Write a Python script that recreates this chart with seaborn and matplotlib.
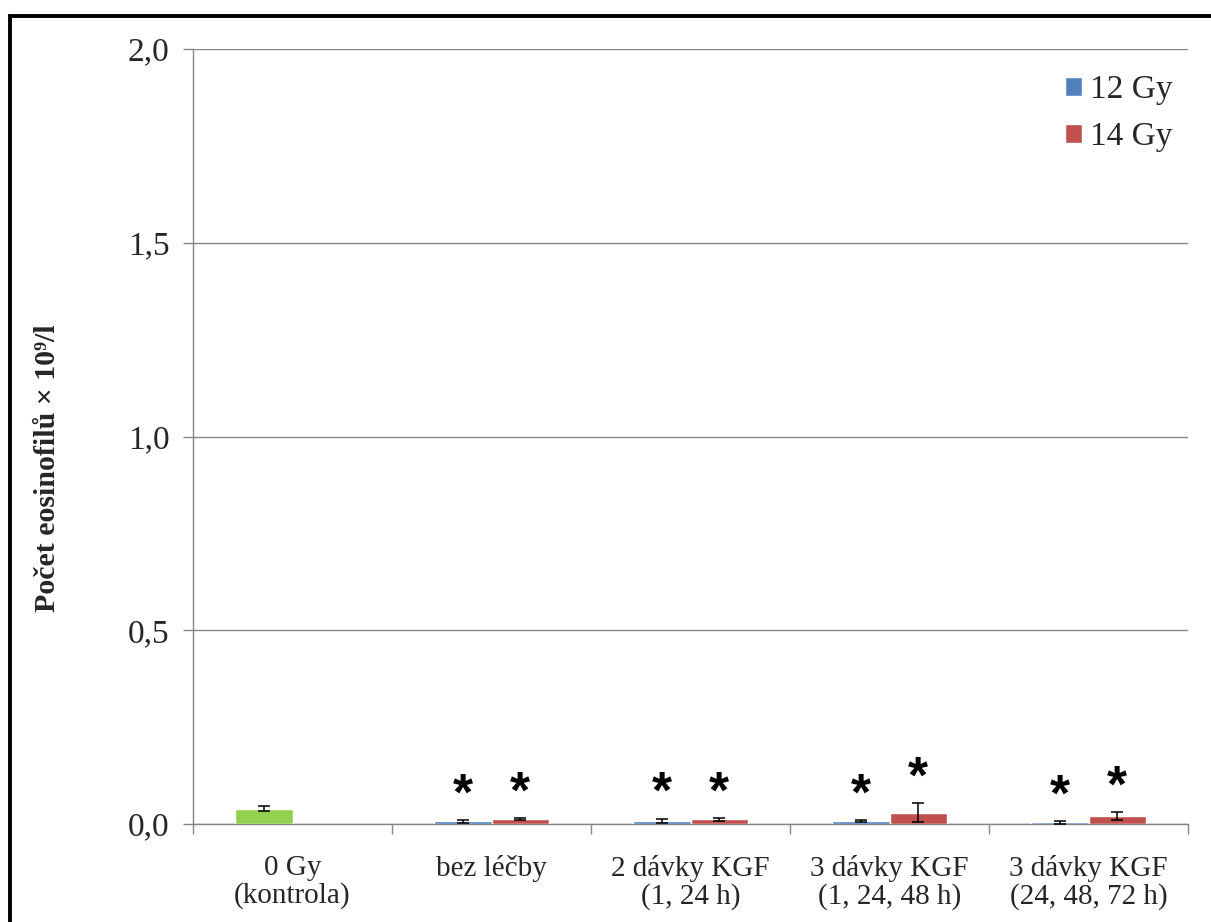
import numpy as np
import pandas as pd
import seaborn as sns
import matplotlib
matplotlib.use("Agg")
import matplotlib.pyplot as plt
from matplotlib.patches import Rectangle
from matplotlib.ticker import FixedLocator

# --- data -----------------------------------------------------------------
categories = ["0 Gy\n(kontrola)", "bez léčby", "2 dávky KGF\n(1, 24 h)",
              "3 dávky KGF\n(1, 24, 48 h)", "3 dávky KGF\n(24, 48, 72 h)"]
series = ["12 Gy", "14 Gy"]
# first group is the non-irradiated control (single bar)
mean_12 = [0.040, 0.007, 0.008, 0.007, 0.004]
err_12 = [0.006, 0.004, 0.006, 0.003, 0.004]
mean_14 = [np.nan, 0.013, 0.012, 0.029, 0.020]
err_14 = [np.nan, 0.003, 0.003, 0.024, 0.010]
significant_12 = [False, True, True, True, True]
significant_14 = [False, True, True, True, True]
yticks = [0.0, 0.5, 1.0, 1.5, 2.0]
ytick_labels = ["0,0", "0,5", "1,0", "1,5", "2,0"]

df = pd.DataFrame({
    "skupina": categories * 2,
    "dávka": [series[0]] * len(categories) + [series[1]] * len(categories),
    "hodnota": mean_12 + mean_14,
})

c_blue = "#4F81BD"
c_red = "#C0504D"
c_green = "#92D050"
c_axis = "#868686"

sns.set_style("white")
plt.rcParams["font.family"] = ["Liberation Serif", "DejaVu Serif"]

fig = plt.figure(figsize=(12.11, 9.22), dpi=100)
ax = fig.add_axes([193 / 1211, 1 - 824 / 922, (1188 - 193) / 1211, (824 - 49) / 922])

sns.barplot(data=df, x="skupina", y="hodnota", hue="dávka",
            order=categories, hue_order=series,
            palette=[c_blue, c_red], width=0.573, errorbar=None,
            saturation=1, ax=ax, zorder=3)

# locate each drawn bar by its group and side of the group centre
bar_at = {}
for p in ax.patches:
    if p.get_width() <= 0 or np.isnan(p.get_height()):
        continue
    xc = p.get_x() + p.get_width() / 2
    gi = int(round(xc))
    if gi < 0 or gi >= len(categories):
        continue
    side = 0 if xc < gi else 1
    bar_at[(gi, side)] = p

bar_at[(0, 0)].set_facecolor(c_green)

star_offset = 0.062
for side, (means, errs, sig) in enumerate(((mean_12, err_12, significant_12),
                                           (mean_14, err_14, significant_14))):
    for gi, (m, e, s) in enumerate(zip(means, errs, sig)):
        if np.isnan(m) or (gi, side) not in bar_at:
            continue
        p = bar_at[(gi, side)]
        xc = p.get_x() + p.get_width() / 2
        ax.errorbar(xc, m, yerr=e, fmt="none", ecolor="black",
                    elinewidth=1.1, capsize=4, capthick=1.1, zorder=4)
        if s:
            ax.text(xc, m + e + star_offset, "*", ha="center", va="center",
                    fontsize=37, fontweight="bold", family="Liberation Sans",
                    color="black", zorder=5)

# axes styling
ax.set_ylim(0, 2.0)
ax.set_xlim(-0.5, len(categories) - 0.5)
ax.set_yticks(yticks)
ax.set_yticklabels(ytick_labels, fontsize=24)
ax.yaxis.grid(True, color=c_axis, linewidth=1.0)
ax.xaxis.grid(False)
ax.set_axisbelow(True)
for side in ("top", "right"):
    ax.spines[side].set_visible(False)
for side in ("left", "bottom"):
    ax.spines[side].set_visible(True)
    ax.spines[side].set_color(c_axis)
    ax.spines[side].set_linewidth(1.0)

ax.tick_params(axis="y", which="major", direction="out", length=7,
               width=1.0, color=c_axis, pad=10, left=True)
ax.tick_params(axis="x", which="major", length=0, pad=22, labelsize=21)
ax.xaxis.set_minor_locator(FixedLocator(np.arange(-0.5, len(categories), 1.0)))
ax.tick_params(axis="x", which="minor", direction="out", length=7,
               width=1.0, color=c_axis, bottom=True)
for lab in ax.get_xticklabels():
    lab.set_linespacing(1.05)

ax.set_xlabel("")
ax.set_ylabel("Počet eosinofilů × 10⁹/l", fontsize=21.5, fontweight="bold")
ax.yaxis.set_label_coords(-0.133, 0.459)

leg = ax.legend(loc="upper right", bbox_to_anchor=(1.005, 0.993), frameon=False,
                fontsize=24, handlelength=0.5, handleheight=0.5,
                handletextpad=0.25, labelspacing=0.5, borderaxespad=0.2)

# outer frame of the figure
fig.patches.append(Rectangle((9.5 / 1211, -0.2), 1.3, 1.2 - 15.5 / 922,
                             transform=fig.transFigure, fill=False,
                             edgecolor="black", linewidth=2.8, zorder=10))

fig.savefig("out.png", dpi=100)
